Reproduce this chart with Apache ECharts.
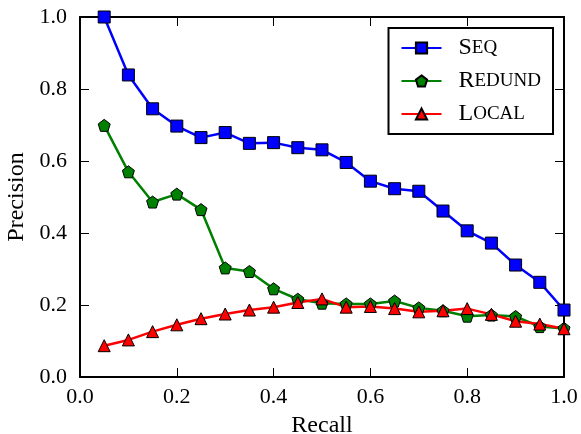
<!DOCTYPE html>
<html>
<head>
<meta charset="utf-8">
<script src="https://cdn.jsdelivr.net/npm/echarts@6/dist/echarts.min.js"></script>
<style>
  html, body { margin: 0; padding: 0; background: #fff; }
  #chart { width: 581px; height: 434px; }
</style>
</head>
<body>
<div id="chart"></div>
<script>
// recall levels (x)
const recall = [0.05, 0.10, 0.15, 0.20, 0.25, 0.30, 0.35, 0.40, 0.45, 0.50,
                0.55, 0.60, 0.65, 0.70, 0.75, 0.80, 0.85, 0.90, 0.95, 1.00]
// precision per method
const seqPrec = [1.00, 0.839, 0.745, 0.697, 0.665, 0.679, 0.649, 0.651, 0.637, 0.631,
                 0.596, 0.544, 0.523, 0.516, 0.461, 0.406, 0.372, 0.311, 0.263, 0.186]
const redundPrec = [0.699, 0.570, 0.486, 0.508, 0.465, 0.303, 0.293, 0.245, 0.216, 0.205,
                    0.203, 0.203, 0.211, 0.192, 0.184, 0.169, 0.172, 0.168, 0.140, 0.135]
const localPrec = [0.087, 0.103, 0.126, 0.145, 0.162, 0.175, 0.186, 0.194, 0.207, 0.217,
                   0.194, 0.196, 0.190, 0.181, 0.184, 0.190, 0.174, 0.155, 0.147, 0.134]
const tickStep = 0.2

const serif = 'Liberation Serif'
const pentagon = 'path://M0,-1 L0.951,-0.309 L0.588,0.809 L-0.588,0.809 L-0.951,-0.309 Z'

function pairs(ys) {
    return recall.map((x, i) => [x, ys[i]])
}

// small caps look for legend names
const smallCaps = {
    Seq: '{a|S}{b|EQ}',
    Redund: '{a|R}{b|EDUND}',
    Local: '{a|L}{b|OCAL}'
}

function fmt(v) {
    return (Math.round(v * 10) / 10).toFixed(1)
}

function makeSeries(name, ys, color, symbol, size) {
    return {
        name: name,
        type: 'line',
        data: pairs(ys),
        symbol: symbol,
        symbolSize: size,
        showAllSymbol: true,
        lineStyle: { color: color, width: 2.5 },
        itemStyle: { color: color, borderColor: '#000', borderWidth: 1 },
        emphasis: { disabled: true },
        animation: false
    }
}

const frameAxis = {
    min: 0, max: 1, interval: tickStep,
    axisLine: { show: true, onZero: false, lineStyle: { color: '#000', width: 2 } },
    axisTick: { show: true, inside: true, length: 9, lineStyle: { color: '#000', width: 1 } },
    splitLine: { show: false }
}

const tickLabel = {
    fontFamily: serif, fontSize: 22, color: '#000',
    showMinLabel: true, showMaxLabel: true, hideOverlap: false,
    formatter: fmt
}

const option = {
    backgroundColor: '#fff',
    grid: { left: 80, right: 17, top: 17, bottom: 57, containLabel: false, outerBoundsMode: 'none' },
    legend: {
        right: 28, top: 28,
        orient: 'vertical',
        itemWidth: 40, itemHeight: 14,
        itemGap: 9,
        padding: [8, 12, 8, 12],
        backgroundColor: '#fff',
        borderColor: '#000', borderWidth: 2, borderRadius: 0,
        formatter: name => smallCaps[name],
        textStyle: {
            fontFamily: serif,
            color: '#000',
            padding: [0, 0, 0, 12],
            rich: {
                a: { fontFamily: serif, fontSize: 24, lineHeight: 22, color: '#000' },
                b: { fontFamily: serif, fontSize: 19, lineHeight: 22, color: '#000' }
            }
        },
        data: ['Seq', 'Redund', 'Local']
    },
    xAxis: [
        Object.assign({}, frameAxis, {
            type: 'value', position: 'bottom',
            name: 'Recall', nameLocation: 'middle', nameGap: 37,
            nameTextStyle: { fontFamily: serif, fontSize: 24, color: '#000' },
            axisLabel: Object.assign({}, tickLabel, { margin: 9 })
        }),
        Object.assign({}, frameAxis, {
            type: 'value', position: 'top', axisLabel: { show: false }
        })
    ],
    yAxis: [
        Object.assign({}, frameAxis, {
            type: 'value', position: 'left',
            name: 'Precision', nameLocation: 'middle', nameGap: 50,
            nameTextStyle: { fontFamily: serif, fontSize: 24, color: '#000' },
            axisLabel: Object.assign({}, tickLabel, { margin: 13 })
        }),
        Object.assign({}, frameAxis, {
            type: 'value', position: 'right', axisLabel: { show: false }
        })
    ],
    series: [
        makeSeries('Seq', seqPrec, '#0000ff', 'rect', 12),
        makeSeries('Redund', redundPrec, '#008000', pentagon, 12),
        makeSeries('Local', localPrec, '#ff0000', 'triangle', 12)
    ]
}

const chart = echarts.init(document.getElementById('chart'))
chart.setOption(option)
</script>
</body>
</html>
